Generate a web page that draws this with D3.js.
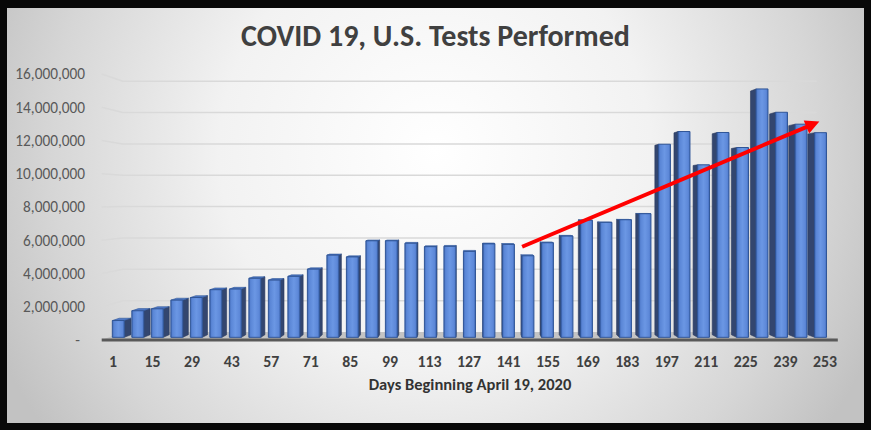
<!DOCTYPE html>
<html><head><meta charset="utf-8">
<script src="https://cdn.jsdelivr.net/npm/d3@7"></script>
<style>html,body{margin:0;padding:0;background:#000;} svg{display:block}</style>
</head><body><svg id="chart" width="871" height="430"></svg>
<script>
// ---------- data ----------
const days = [1,8,15,22,29,36,43,50,57,64,71,78,85,92,99,106,113,120,127,134,141,148,155,162,169,176,183,190,197,204,211,218,225,232,239,246,253];
const testsPerformed = [1030000,1630000,1750000,2280000,2440000,2920000,2960000,3620000,3510000,3740000,4180000,5040000,4930000,5920000,5920000,5770000,5560000,5580000,5270000,5730000,5700000,5000000,5800000,6210000,7180000,7050000,7210000,7580000,11840000,12620000,10580000,12560000,11640000,15230000,13800000,13070000,12550000];
const xTickDays = [1,15,29,43,57,71,85,99,113,127,141,155,169,183,197,211,225,239,253];
const yTickValues = [0,2000000,4000000,6000000,8000000,10000000,12000000,14000000,16000000];
const trendStart = {day:145.8, value:5610000};
const trendEnd = {day:251, value:13140000};
const chartTitle = "COVID 19, U.S. Tests Performed";
const xAxisTitle = "Days Beginning April 19, 2020";

// ---------- setup ----------
const W = 871, H = 430;
const svg = d3.select("#chart");
const defs = svg.append("defs");
const FONT = "Carlito, Lato, 'Open Sans', sans-serif";

const bg = defs.append("radialGradient").attr("id","bg").attr("gradientUnits","userSpaceOnUse")
  .attr("cx",435).attr("cy",150).attr("r",480).attr("fx",435).attr("fy",150);
[[0,"#ffffff"],[0.45,"#f2f2f2"],[0.8,"#d6d6d6"],[1,"#c2c2c2"]].forEach(s=>bg.append("stop").attr("offset",s[0]).attr("stop-color",s[1]));

const fg = defs.append("linearGradient").attr("id","barFront").attr("x1",0).attr("x2",1).attr("y1",0).attr("y2",0);
[[0,"#4068b4"],[0.15,"#5a86d6"],[0.5,"#6b97e4"],[0.85,"#5d88d8"],[1,"#4570c0"]].forEach(s=>fg.append("stop").attr("offset",s[0]).attr("stop-color",s[1]));

svg.append("rect").attr("width",W).attr("height",H).attr("fill","#080808");
svg.append("rect").attr("x",7).attr("y",8).attr("width",857).attr("height",415).attr("fill","url(#bg)");

// scales (front plane)
const x = d3.scaleLinear().domain([1,253]).range([113,825]);
const xBar = x.copy().range([111.5,827.3]);
const y = d3.scaleLinear().domain([0,16000000]).range([340,74]);

// perspective
const VP = {x:470, y:200};
const proj = (px,py,k) => [px + k*(VP.x-px), py + k*(VP.y-py)];
const kFront = 0.019, kBack = 0.038, kWall = 0.057;
const plotL = 101.7, plotR = 837.8;
const halfW = 6.1;

// floor
const floorPts = [[plotL,y(0)],[plotR,y(0)],proj(plotR,y(0),kWall),proj(plotL,y(0),kWall)];
svg.append("polygon").attr("points",floorPts.map(p=>p.join(",")).join(" ")).attr("fill","#c4c4c4");

// gridlines (side wall + back wall)
const grid = svg.append("g").attr("fill","none").attr("stroke","#d9d9d9").attr("stroke-width",1.5);
yTickValues.filter(v=>v>0).forEach(v=>{
  const a=[plotL,y(v)], b=proj(plotL,y(v),kWall), c=proj(plotR,y(v),kWall);
  grid.append("polyline").attr("points",[a,b,c].map(p=>p.join(",")).join(" "));
});

// bars
const data = days.map((d,i)=>({day:d, value:testsPerformed[i]}));
const gBack = svg.append("g"), gFront = svg.append("g");
data.forEach(d=>{
  const cx = xBar(d.day), xl = cx-halfW, xr = cx+halfW, yb = y(0), yt = y(d.value);
  const cxScreen = proj(cx,yt,kFront)[0];
  const sx = cxScreen < VP.x ? xr : xl;
  const side = [proj(sx,yt,kFront),proj(sx,yt,kBack),proj(sx,yb,kBack),proj(sx,yb,kFront)];
  gBack.append("polygon").attr("points",side.map(p=>p.join(",")).join(" "))
    .attr("fill","#33466f").attr("stroke","#2b3b5e").attr("stroke-width",0.6);
  const ftop = proj(cx,yt,kFront)[1];
  if (ftop > VP.y) {
    const top = [proj(xl,yt,kFront),proj(xr,yt,kFront),proj(xr,yt,kBack),proj(xl,yt,kBack)];
    gBack.append("polygon").attr("points",top.map(p=>p.join(",")).join(" "))
      .attr("fill","#4e78c6").attr("stroke","#2f5597").attr("stroke-width",0.6);
  }
  const front = [proj(xl,yt,kFront),proj(xr,yt,kFront),proj(xr,yb,kFront),proj(xl,yb,kFront)];
  gFront.append("polygon").attr("points",front.map(p=>p.join(",")).join(" "))
    .attr("fill","url(#barFront)").attr("stroke","#2f5597").attr("stroke-width",1);
});

// floor front edge
svg.append("line").attr("x1",plotL).attr("x2",plotR).attr("y1",y(0)).attr("y2",y(0))
  .attr("stroke","#595959").attr("stroke-width",3);

// y labels
const fmt = d3.format(",");
svg.append("g").selectAll("text").data(yTickValues).join("text")
  .attr("x",d=> d===0 ? 80 : 85).attr("y",d=>y(d)).attr("dy","0.35em")
  .attr("text-anchor","end").attr("font-family",FONT).attr("font-size",15.3)
  .attr("fill","#595959").text(d=> d===0 ? "-" : fmt(d));

// x labels
svg.append("g").selectAll("text").data(xTickDays).join("text")
  .attr("x",d=>x(d)).attr("y",361).attr("dy","0.35em").attr("text-anchor","middle")
  .attr("font-family",FONT).attr("font-size",15.8).attr("font-weight","bold")
  .attr("fill","#404040").text(d=>d);

// axis title
svg.append("text").attr("x",470).attr("y",384).attr("dy","0.35em").attr("text-anchor","middle")
  .attr("font-family",FONT).attr("font-size",16.5).attr("font-weight","600")
  .attr("fill","#333333").text(xAxisTitle);

// chart title
svg.append("text").attr("x",435.5).attr("y",46).attr("text-anchor","middle")
  .attr("font-family",FONT).attr("font-size",30).attr("font-weight","bold")
  .attr("fill","#404040").text(chartTitle);

// trend arrow
const p0 = [x(trendStart.day), y(trendStart.value)], p1 = [x(trendEnd.day), y(trendEnd.value)];
const ang = Math.atan2(p1[1]-p0[1], p1[0]-p0[0]);
const headL = 14, headW = 7;
const base = [p1[0]-headL*Math.cos(ang), p1[1]-headL*Math.sin(ang)];
svg.append("line").attr("x1",p0[0]).attr("y1",p0[1]).attr("x2",base[0]+Math.cos(ang)).attr("y2",base[1]+Math.sin(ang))
  .attr("stroke","#ff0000").attr("stroke-width",4);
const nx = -Math.sin(ang), ny = Math.cos(ang);
svg.append("polygon").attr("points",[p1,[base[0]+nx*headW,base[1]+ny*headW],[base[0]-nx*headW,base[1]-ny*headW]].map(p=>p.join(",")).join(" "))
  .attr("fill","#ff0000");
</script></body></html>
